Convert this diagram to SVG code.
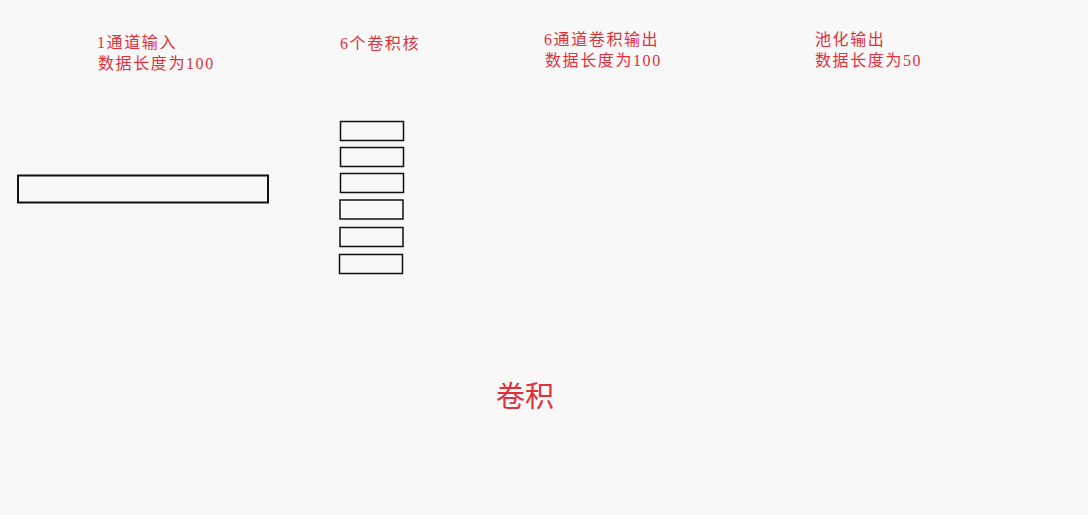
<svg xmlns="http://www.w3.org/2000/svg" width="1088" height="515" viewBox="0 0 1088 515">
<style>
.t{font-family:"Liberation Serif","Noto Sans CJK SC",serif;fill:#e0303a;font-size:16px;letter-spacing:1.6px}
.big{font-size:29px;letter-spacing:0}
.k{fill:none;stroke:#111;stroke-width:1.5}
.in{fill:none;stroke:#111;stroke-width:2}
</style>
<rect width="1088" height="515" fill="#f8f8f8"/>
<g id="labels">
<text class="t" x="97" y="48">1通道输入</text>
<text class="t" x="98" y="69">数据长度为100</text>
<text class="t" x="340" y="49">6个卷积核</text>
<text class="t" x="544" y="45">6通道卷积输出</text>
<text class="t" x="545" y="66">数据长度为100</text>
<text class="t" x="815" y="45">池化输出</text>
<text class="t" x="815" y="66">数据长度为50</text>
<text class="t big" x="496" y="407">卷积</text>
</g>
<g id="input">
<rect class="in" x="18" y="175.5" width="250" height="27"/>
</g>
<g id="kernels">
<rect class="k" x="340.5" y="121.5" width="63" height="19"/>
<rect class="k" x="340.5" y="147.5" width="63" height="19"/>
<rect class="k" x="340.5" y="173.5" width="63" height="19"/>
<rect class="k" x="340" y="200" width="63" height="19"/>
<rect class="k" x="340" y="227.5" width="63" height="19"/>
<rect class="k" x="339.5" y="254.5" width="63" height="19"/>
</g>
<g id="connectors"></g>
</svg>
